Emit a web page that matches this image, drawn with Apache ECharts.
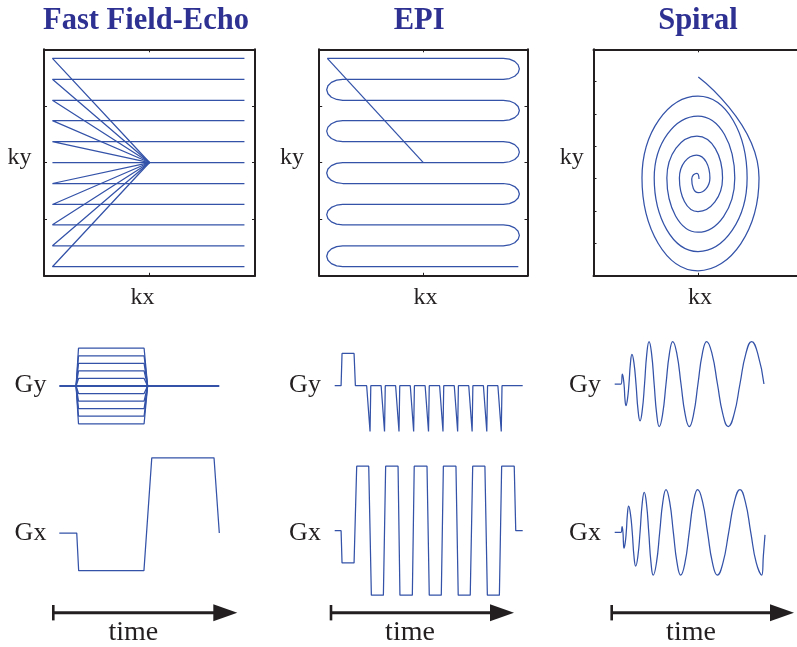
<!DOCTYPE html>
<html><head><meta charset="utf-8">
<script src="https://cdn.jsdelivr.net/npm/echarts@6/dist/echarts.min.js"></script>
<style>html,body{margin:0;padding:0;background:#fff}#c{width:797px;height:647px}</style>
</head><body><div id="c"></div>
<script>
// ---------------- data ----------------
const panelTitles = ['Fast Field-Echo', 'EPI', 'Spiral'];

// Fast Field-Echo k-space: one line per phase-encode step
const ffeKy = [0.92, 0.735, 0.55, 0.37, 0.185, 0, -0.185, -0.37, -0.55, -0.735, -0.92];
const ffeKxLeft = -0.92;
const ffeKxRight = 0.9;

// EPI k-space raster
const epiKy = [0.92, 0.735, 0.55, 0.37, 0.185, 0, -0.185, -0.37, -0.55, -0.735, -0.92];
const epiKxStart = -0.922;
const epiKxEnd = 0.912;
const epiKxLeft = -0.774;   // where straight lines meet left turns
const epiKxRight = 0.768;   // where straight lines meet right turns
const epiTurnDx = [0, 0.059, 0.109, 0.142, 0.154, 0.142, 0.109, 0.059, 0];
const epiTurnFrac = [0, 0.038, 0.146, 0.309, 0.5, 0.691, 0.854, 0.962, 1];

// Spiral k-space (from centre outward, quarter-turn extremes)
const spiralKx = [0.01, -0.01, -0.06, 0.003, 0.114, -0.014, -0.178, 0, 0.235, -0.01, -0.298, 0, 0.352, 0, -0.419, 0, 0.47, 0, -0.536, 0, 0.584, 0.003];
const spiralKy = [-0.145, -0.095, -0.145, -0.266, -0.137, 0.066, -0.137, -0.433, -0.137, 0.233, -0.137, -0.615, -0.137, 0.41, -0.137, -0.786, -0.137, 0.586, -0.137, -0.956, -0.137, 0.756];

// Gradient waveforms, time 0..10 (arbitrary units)
const ffeGyT = [1.05, 1.2, 5.3, 5.52];
const ffeGyLevels = [1, 0.8, 0.6, 0.4, 0.2, 0, -0.2, -0.4, -0.6, -0.8, -1];
const ffeGyBaseT = [0, 10];
const ffeGxT = [0, 1.09, 1.21, 5.29, 5.78, 9.67, 10];
const ffeGxA = [0, 0, -1, -1, 2, 2, 0];

const epiGyT = [0, 0.34, 0.39, 1.03, 1.10,
  1.70, 1.88, 1.92, 2.47, 2.65, 2.69, 3.24, 3.42, 3.46, 4.02, 4.20, 4.24,
  4.81, 4.99, 5.03, 5.58, 5.76, 5.80, 6.36, 6.54, 6.58, 7.13, 7.31, 7.35,
  7.91, 8.09, 8.13, 8.68, 8.86, 8.90, 10];
const epiGyA = [0, 0, 0.5, 0.5, 0,
  0, -0.71, 0, 0, -0.71, 0, 0, -0.71, 0, 0, -0.71, 0,
  0, -0.71, 0, 0, -0.71, 0, 0, -0.71, 0, 0, -0.71, 0,
  0, -0.71, 0, 0, -0.71, 0, 0];
const epiGxT = [0, 0.34, 0.39, 1.03, 1.17, 1.81, 1.95, 2.59, 2.71, 3.37, 3.47, 4.13, 4.23, 4.91,
  5.03, 5.67, 5.78, 6.45, 6.57, 7.21, 7.34, 7.99, 8.12, 8.76, 8.88, 9.55, 9.63, 10];
const epiGxA = [0, 0, -0.5, -0.5, 1, 1, -1, -1, 1, 1, -1, -1, 1, 1,
  -1, -1, 1, 1, -1, -1, 1, 1, -1, -1, 1, 1, 0, 0];

const spGyT = [0, 0.42, 0.51, 0.62, 0.685, 0.75, 0.85, 0.95, 1.05, 1.15, 1.285, 1.42, 1.555, 1.69, 1.84, 1.99,
  2.14, 2.29, 2.46, 2.63, 2.80, 2.97, 3.195, 3.42, 3.645, 3.87, 4.145, 4.42, 4.695, 4.97, 5.26, 5.55,
  5.84, 6.13, 6.49, 6.85, 7.21, 7.57, 7.96, 8.35, 8.74, 9.13, 9.54, 9.95];
const spGyA = [0, 0, 0.23, 0, -0.36, -0.51, -0.36, 0, 0.49, 0.70, 0.49, 0, -0.61, -0.87, -0.61, 0,
  0.71, 1, 0.71, 0, -0.71, -1, -0.71, 0, 0.71, 1, 0.71, 0, -0.71, -1, -0.71, 0,
  0.71, 1, 0.71, 0, -0.71, -1, -0.71, 0, 0.71, 1, 0.71, 0];
const spGxT = [0, 0.42, 0.49, 0.55, 0.585, 0.62, 0.695, 0.77, 0.85, 0.93, 1.05, 1.17, 1.285, 1.40, 1.545, 1.69,
  1.83, 1.97, 2.12, 2.27, 2.42, 2.57, 2.785, 3.00, 3.21, 3.42, 3.665, 3.91, 4.155, 4.40, 4.685, 4.97,
  5.25, 5.53, 5.86, 6.19, 6.515, 6.84, 7.22, 7.60, 7.975, 8.35, 8.71, 9.07, 9.435, 9.80, 9.91, 10.02];
const spGxA = [0, 0, 0.13, 0, -0.26, -0.37, -0.26, 0, 0.43, 0.61, 0.43, 0, -0.56, -0.79, -0.56, 0,
  0.66, 0.93, 0.66, 0, -0.71, -1, -0.71, 0, 0.71, 1, 0.71, 0, -0.71, -1, -0.71, 0,
  0.71, 1, 0.71, 0, -0.71, -1, -0.71, 0, 0.71, 1, 0.71, 0, -0.71, -1, -0.55, -0.06];

// ---------------- chart ----------------
const BLUE = '#3352a8', INK = '#231f20', TITLE = '#2e3192';
const SERIF = '"Liberation Serif", "Times New Roman", serif';
const grids = [], xAxes = [], yAxes = [], series = [];
const zip = (a, b) => a.map((v, i) => [v, b[i]]);

function kPanel(rect, yInterval) {
  const g = grids.length;
  grids.push(Object.assign({ containLabel: false, outerBoundsMode: 'none' }, rect));
  const xi = xAxes.length, yi = yAxes.length;
  const axisLine = { show: true, onZero: false, lineStyle: { color: INK, width: 2 } };
  const axisTick = { show: true, inside: true, length: 3, lineStyle: { color: INK, width: 1 } };
  ['bottom', 'top'].forEach(p => xAxes.push({ type: 'value', gridIndex: g, position: p, min: -1, max: 1, interval: 1,
    axisLine, axisTick, axisLabel: { show: false }, splitLine: { show: false } }));
  ['left', 'right'].forEach(p => yAxes.push({ type: 'value', gridIndex: g, position: p, min: -1, max: 1, interval: yInterval,
    axisLine, axisTick, axisLabel: { show: false }, splitLine: { show: false } }));
  return { xi, yi };
}
function wPanel(x0, x1, base, unit, ymin, ymax) {
  const g = grids.length;
  grids.push({ left: x0, width: x1 - x0, top: base - ymax * unit, height: (ymax - ymin) * unit, containLabel: false, outerBoundsMode: 'none' });
  const xi = xAxes.length, yi = yAxes.length;
  xAxes.push({ type: 'value', gridIndex: g, min: 0, max: 10, show: false });
  yAxes.push({ type: 'value', gridIndex: g, min: ymin, max: ymax, show: false });
  return { xi, yi };
}
function addLine(ax, pts, smooth, width) {
  series.push({ type: 'line', xAxisIndex: ax.xi, yAxisIndex: ax.yi, data: pts, symbol: 'none', showSymbol: false,
    smooth: smooth || false, clip: false, silent: true, animation: false,
    lineStyle: { color: BLUE, width: width || 1.25 } });
}

// k-space panels
const kFFE = kPanel({ left: 44, top: 49.3, width: 211, height: 226.5 }, 0.5);
const kEPI = kPanel({ left: 319.2, top: 49.3, width: 208.3, height: 226.5 }, 0.5);
const kSP = kPanel({ left: 593.5, top: 49.3, width: 209, height: 226.5 }, 2 / 7);

ffeKy.forEach(ky => addLine(kFFE, [[0, 0], [ffeKxLeft, ky], [ffeKxRight, ky]]));

addLine(kEPI, [[0, 0], [epiKxStart, epiKy[0]]]);
const raster = [[epiKxStart, epiKy[0]]];
for (let i = 0; i < epiKy.length; i++) {
  if (i === epiKy.length - 1) { raster.push([epiKxEnd, epiKy[i]]); break; }
  const right = i % 2 === 0;
  const ex = right ? epiKxRight : epiKxLeft, s = right ? 1 : -1;
  for (let j = 0; j < epiTurnDx.length; j++)
    raster.push([ex + s * epiTurnDx[j], epiKy[i] + (epiKy[i + 1] - epiKy[i]) * epiTurnFrac[j]]);
}
addLine(kEPI, raster);

addLine(kSP, zip(spiralKx, spiralKy), 0.55);

// gradient panels
const wFFEy = wPanel(59.3, 219.3, 386, 37.8, -1.3, 1.3);
const wFFEx = wPanel(59.3, 219.3, 533, 37.6, -1.3, 2.3);
const wEPIy = wPanel(334.7, 522.7, 385.7, 64.5, -0.8, 0.6);
const wEPIx = wPanel(334.7, 522.7, 530.7, 64.5, -1.1, 1.1);
const wSPy = wPanel(614.7, 764.7, 384, 42.5, -1.1, 1.1);
const wSPx = wPanel(614.7, 764.7, 532.3, 42.8, -1.1, 1.1);

addLine(wFFEy, ffeGyBaseT.map(t => [t, 0]), false, 2);
ffeGyLevels.forEach(a => addLine(wFFEy, [[ffeGyT[0], 0], [ffeGyT[1], a], [ffeGyT[2], a], [ffeGyT[3], 0]]));
addLine(wFFEx, zip(ffeGxT, ffeGxA));
addLine(wEPIy, zip(epiGyT, epiGyA));
addLine(wEPIx, zip(epiGxT, epiGxA));
addLine(wSPy, zip(spGyT, spGyA), 0.5);
addLine(wSPx, zip(spGxT, spGxA), 0.5);

// texts and time arrows
function txt(x, y, s, size, opts) {
  return Object.assign({ type: 'text', x, y, silent: true, style: Object.assign({
    text: s, fill: INK, fontSize: size, fontFamily: SERIF, fontWeight: 'normal',
    align: 'center', textAlign: 'center', verticalAlign: 'middle', textVerticalAlign: 'middle' }, opts || {}) });
}
function arrow(x0, x1, y) {
  return [
    { type: 'rect', silent: true, shape: { x: x0 - 1.3, y: y - 7.7, width: 2.6, height: 15.4 }, style: { fill: INK } },
    { type: 'line', silent: true, shape: { x1: x0, y1: y, x2: x1 - 18, y2: y }, style: { stroke: INK, lineWidth: 3 } },
    { type: 'polygon', silent: true, shape: { points: [[x1 - 24, y - 8.5], [x1, y], [x1 - 24, y + 8.5]] }, style: { fill: INK } }
  ];
}
const titleX = [146, 419.2, 698];
const kyX = [19.5, 292, 571.7];
const kxX = [142.5, 425.5, 700];
const gX = [30.5, 305, 585];
const timeX = [133.3, 410, 691];
const arrows = [[53.3, 237.3], [331, 514], [611.7, 794]];
const graphic = [];
for (let c = 0; c < 3; c++) {
  graphic.push(txt(titleX[c], 20.8, panelTitles[c], 30.5, { fill: TITLE, fontWeight: 'bold' }));
  graphic.push(txt(kyX[c], 158, 'ky', 24));
  graphic.push(txt(kxX[c], 298, 'kx', 24));
  graphic.push(txt(gX[c], 385.5, 'Gy', 26));
  graphic.push(txt(gX[c], 533, 'Gx', 26));
  graphic.push(txt(timeX[c], 633, 'time', 28));
  graphic.push(...arrow(arrows[c][0], arrows[c][1], 612.7));
}

const chart = echarts.init(document.getElementById('c'), null, { renderer: 'canvas', width: 797, height: 647 });
chart.setOption({
  backgroundColor: '#ffffff',
  animation: false,
  grid: grids,
  xAxis: xAxes,
  yAxis: yAxes,
  series: series,
  graphic: { elements: graphic }
});
</script>
</body></html>
